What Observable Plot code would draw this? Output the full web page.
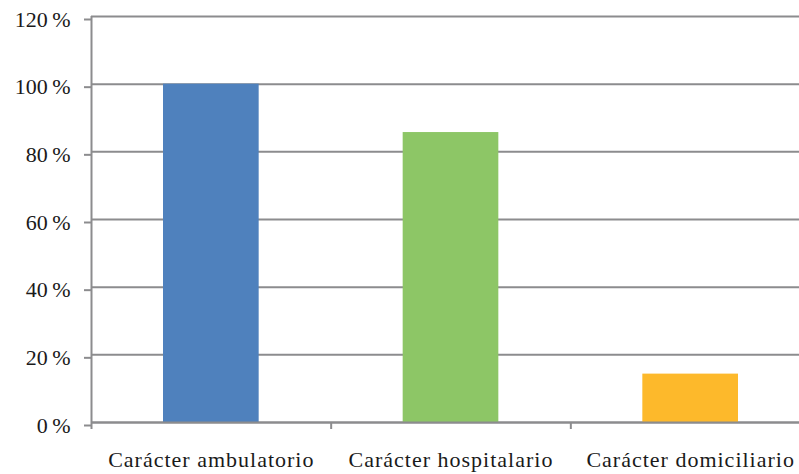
<!DOCTYPE html>
<html>
<head>
<meta charset="utf-8">
<script src="https://cdn.jsdelivr.net/npm/d3@7"></script>
<script src="https://cdn.jsdelivr.net/npm/@observablehq/plot@0.6"></script>
<style>
  html, body { margin: 0; padding: 0; background: #fff; overflow: hidden; }
  #chart { width: 799px; height: 474px; overflow: hidden; }
  #chart svg { max-width: none !important; }
  #chart g[aria-label="x-axis tick label"] { letter-spacing: 1px; }
</style>
</head>
<body>
<div id="chart"></div>
<script>
const categories = ["Carácter ambulatorio", "Carácter hospitalario", "Carácter domiciliario"];
const values = [100, 85.7, 14.3];
const colors = ["#4F81BD", "#8DC666", "#FDB92B"];
const yTicks = [0, 20, 40, 60, 80, 100, 120];

const table = categories.map((c, i) => ({category: c, index: i, value: values[i], color: colors[i]}));

const gridColor = "#8c8c8e";
const font = "'Liberation Serif', 'DejaVu Serif', serif";

const chart = Plot.plot({
  width: 810,
  height: 474,
  marginTop: 16,
  marginBottom: 52,
  marginLeft: 91,
  marginRight: 0,
  style: {fontFamily: font, fontSize: "22px", color: "#1a1a1a", background: "#fff", maxWidth: "none"},
  x: {type: "linear", domain: [0, categories.length], axis: null},
  y: {domain: [0, 120], axis: null},
  marks: [
    Plot.gridY(yTicks, {stroke: gridColor, strokeOpacity: 1, strokeWidth: 2}),
    Plot.axisY({ticks: yTicks, label: null, tickSize: 7, tickPadding: 14, tickFormat: d => d + "\u2009%", stroke: gridColor, strokeWidth: 2, fontSize: 22, dy: 3, fill: "#1a1a1a"}),
    Plot.rectY(table, {x1: "index", x2: d => d.index + 1, y: "value", fill: "color", insetLeft: 72, insetRight: 72}),
    Plot.ruleX([0], {stroke: gridColor, strokeWidth: 2}),
    Plot.ruleY([0], {stroke: gridColor, strokeWidth: 2}),
    Plot.axisX({ticks: d3.range(categories.length + 1), label: null, tickSize: 7, tickFormat: () => "", stroke: gridColor, strokeWidth: 2}),
    Plot.axisX({ticks: table.map(d => d.index + 0.5), label: null, tickSize: 0, tickPadding: 29, tickFormat: v => categories[Math.floor(v)], fontSize: 22, fill: "#1a1a1a"})
  ]
});
document.getElementById("chart").appendChild(chart);
</script>
</body>
</html>
